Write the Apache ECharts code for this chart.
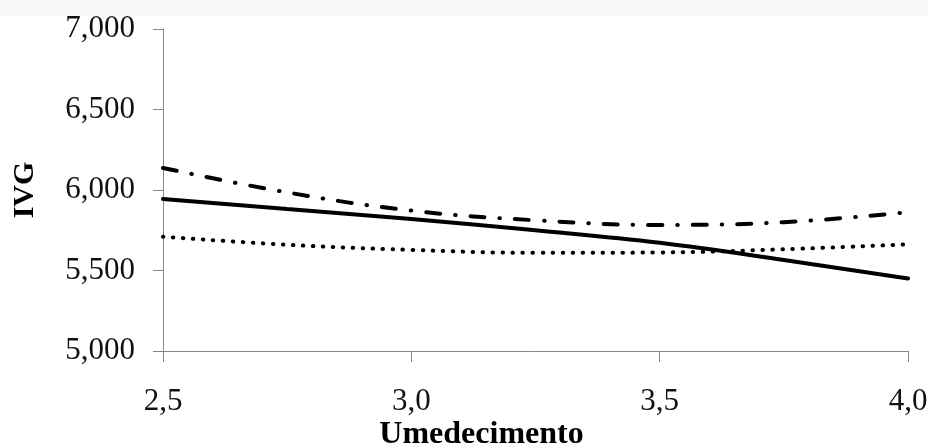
<!DOCTYPE html>
<html>
<head>
<meta charset="utf-8">
<script src="https://cdn.jsdelivr.net/npm/echarts@6/dist/echarts.min.js"></script>
<style>
html,body{margin:0;padding:0;background:#fff;}
#c{width:928px;height:444px;}
</style>
</head>
<body>
<div id="c"></div>
<script>
const xValues = [2.5, 2.75, 3.0, 3.25, 3.5, 3.75, 4.0];
const solidSeries = [5944, 5882, 5820, 5750, 5672, 5565, 5450];
const dashDotSeries = [6137, 5985, 5872, 5812, 5783, 5800, 5862];
const dottedSeries = [5710, 5660, 5628, 5610, 5612, 5632, 5663];
const xTicks = [2.5, 3.0, 3.5, 4.0];
const yTicks = [5000, 5500, 6000, 6500, 7000];
const xTitle = 'Umedecimento';
const yTitle = 'IVG';

const pairs = arr => xValues.map((x, i) => [x, arr[i]]);
const font = '"Liberation Serif", "Times New Roman", serif';

const chart = echarts.init(document.getElementById('c'), null, {renderer: 'canvas'});
chart.setOption({
  animation: false,
  backgroundColor: '#ffffff',
  graphic: [{
    type: 'rect', left: 0, top: 0, z: -10,
    shape: {width: 928, height: 16},
    style: {fill: '#f9f8f6'}
  }],
  grid: {left: 163, right: 20, top: 29, bottom: 93, containLabel: false, outerBoundsMode: 'none'},
  xAxis: {
    type: 'value', min: xTicks[0], max: xTicks[xTicks.length - 1], interval: 0.5,
    name: xTitle, nameLocation: 'middle', nameGap: 68, nameMoveOverlap: false,
    nameTextStyle: {fontFamily: font, fontWeight: 'bold', fontSize: 32, color: '#000', padding: [0, 108, 0, 0]},
    axisLine: {show: true, lineStyle: {color: '#888888', width: 1}},
    axisTick: {show: true, length: 11, lineStyle: {color: '#888888'}},
    axisLabel: {
      margin: 35, fontFamily: font, fontSize: 31, color: '#111',
      formatter: v => v.toFixed(1).replace('.', ',')
    },
    splitLine: {show: false}
  },
  yAxis: {
    type: 'value', min: yTicks[0], max: yTicks[yTicks.length - 1], interval: 500,
    name: yTitle, nameLocation: 'middle', nameGap: 123, nameRotate: 90, nameMoveOverlap: false,
    nameTextStyle: {fontFamily: font, fontWeight: 'bold', fontSize: 30, color: '#000'},
    axisLine: {show: true, lineStyle: {color: '#888888', width: 1}},
    axisTick: {show: true, length: 10, lineStyle: {color: '#888888'}},
    axisLabel: {
      margin: 28, fontFamily: font, fontSize: 31, color: '#111',
      formatter: v => v.toLocaleString('en-US')
    },
    splitLine: {show: false}
  },
  series: [
    {
      type: 'line', data: pairs(solidSeries), smooth: 0.4, symbol: 'none',
      lineStyle: {color: '#000', width: 4, type: 'solid', cap: 'round'}
    },
    {
      type: 'line', data: pairs(dashDotSeries), smooth: 0.4, symbol: 'none',
      lineStyle: {color: '#000', width: 4, type: [14, 15, 0.5, 15], cap: 'round'}
    },
    {
      type: 'line', data: pairs(dottedSeries), smooth: 0.4, symbol: 'none',
      lineStyle: {color: '#000', width: 4, type: [0.5, 9.5], cap: 'round'}
    }
  ]
});
</script>
</body>
</html>
